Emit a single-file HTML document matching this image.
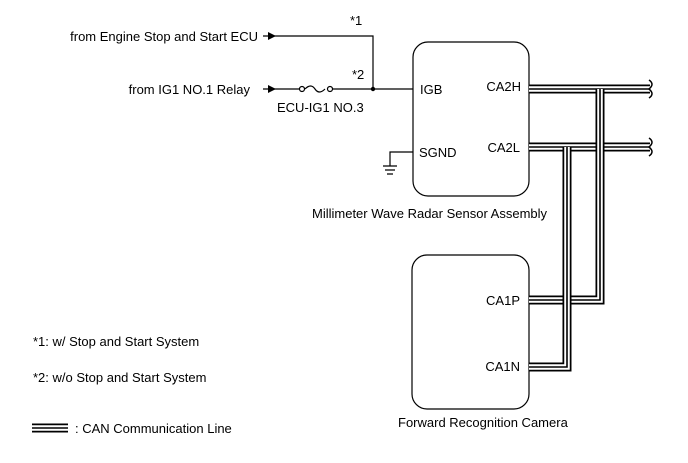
<!DOCTYPE html>
<html><head><style>
body{margin:0;background:#fff;}
svg{display:block;font-family:"Liberation Sans",Arial,sans-serif;font-size:13px;fill:#000;}
</style></head><body>
<svg width="688" height="463" viewBox="0 0 688 463">
<g fill="none" stroke="#000" stroke-width="1.2">
<rect x="413" y="42" width="116" height="154" rx="15"/>
<rect x="412" y="255" width="117" height="154" rx="15"/>
<path d="M263 36H373V89"/>
<path d="M263 89H300M332 89H413"/>
<circle cx="302" cy="89" r="2.5" fill="#fff"/><circle cx="330" cy="89" r="2.5" fill="#fff"/>
<path d="M305 89q6 -6 10 0q4 6 10 0"/>
<path d="M413 152H390V166M383 166H397M385 170H395M387 174H393"/>
</g>
<circle cx="373" cy="89" r="2.2"/>
<path d="M268 32L276 36L268 40Z"/><path d="M268 85L276 89L268 93Z"/>
<g fill="none" stroke-linejoin="miter">
<path d="M529 89H650" stroke="#000" stroke-width="9"/><path d="M529 89H650" stroke="#fff" stroke-width="5.5"/><path d="M529 89H650" stroke="#000" stroke-width="1.6"/>
<path d="M529 147H650" stroke="#000" stroke-width="9"/><path d="M529 147H650" stroke="#fff" stroke-width="5.5"/><path d="M529 147H650" stroke="#000" stroke-width="1.6"/>
<path d="M600 89V300H529" stroke="#000" stroke-width="9"/><path d="M600 89V300H529" stroke="#fff" stroke-width="5.5"/><path d="M600 89V300H529" stroke="#000" stroke-width="1.6"/>
<path d="M567 147V367H529" stroke="#000" stroke-width="9"/><path d="M567 147V367H529" stroke="#fff" stroke-width="5.5"/><path d="M567 147V367H529" stroke="#000" stroke-width="1.6"/>
<path d="M32 428H68" stroke="#000" stroke-width="9"/><path d="M32 428H68" stroke="#fff" stroke-width="5.5"/><path d="M32 428H68" stroke="#000" stroke-width="1.6"/>
</g>
<path d="M649 80q6 4 0 9q6 5 0 9M649 138q6 4 0 9q6 5 0 9" stroke="#000" stroke-width="1.5" fill="none"/>
<text x="258" y="41" text-anchor="end">from Engine Stop and Start ECU</text>
<text x="250" y="94" text-anchor="end">from IG1 NO.1 Relay</text>
<text x="350" y="25">*1</text>
<text x="352" y="79">*2</text>
<text x="277" y="112">ECU-IG1 NO.3</text>
<text x="420" y="94">IGB</text>
<text x="419" y="157">SGND</text>
<text x="521" y="91" text-anchor="end">CA2H</text>
<text x="520" y="152" text-anchor="end">CA2L</text>
<text x="312" y="218">Millimeter Wave Radar Sensor Assembly</text>
<text x="520" y="305" text-anchor="end">CA1P</text>
<text x="520" y="371" text-anchor="end">CA1N</text>
<text x="398" y="427">Forward Recognition Camera</text>
<text x="33" y="346">*1: w/ Stop and Start System</text>
<text x="33" y="382">*2: w/o Stop and Start System</text>
<text x="75" y="433">: CAN Communication Line</text>
</svg>
</body></html>
